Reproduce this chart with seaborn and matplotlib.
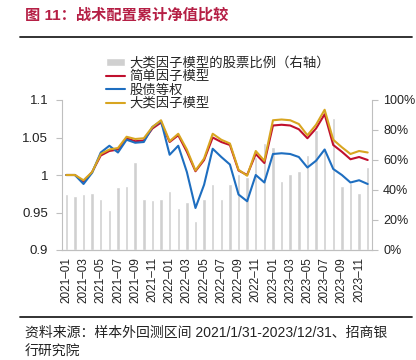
import matplotlib
matplotlib.use('Agg')
import matplotlib.pyplot as plt
from matplotlib.lines import Line2D
import numpy as np
import pandas as pd
import seaborn as sns

months = [f'{y}–{m:02d}' for y in (2021, 2022, 2023) for m in range(1, 13)]

# 大类因子模型的股票比例（右轴）, %
stock_ratio = [37.3, 36.0, 37.0, 38.0, 33.8, 26.7, 42.2, 42.9, 58.9, 34.0, 33.6, 34.0,
               39.6, 27.8, 31.8, 19.3, 33.8, 43.8, 33.8, 44.0, 50.4, 48.9, 62.0, 71.0,
               68.9, 46.0, 50.7, 52.4, 63.1, 80.0, 68.2, 87.8, 42.9, 44.4, 37.8, 55.1]

simple_factor = [1.000, 1.000, 0.991, 1.004, 1.026, 1.032, 1.034, 1.049, 1.045, 1.046, 1.062, 1.070,
                 1.044, 1.053, 1.031, 1.005, 1.020, 1.050, 1.044, 1.040, 1.006, 1.000, 1.028, 1.016,
                 1.066, 1.067, 1.066, 1.061, 1.049, 1.062, 1.081, 1.040, 1.031, 1.021, 1.024, 1.020]

equal_weight = [1.000, 1.000, 0.988, 1.003, 1.030, 1.039, 1.030, 1.047, 1.043, 1.044, 1.064, 1.072,
                1.027, 1.039, 1.004, 0.956, 0.987, 1.035, 1.024, 1.014, 0.974, 0.965, 1.000, 0.990,
                1.028, 1.029, 1.028, 1.024, 1.010, 1.019, 1.034, 1.008, 1.000, 0.990, 0.993, 0.988]

macro_factor = [1.000, 1.000, 0.993, 1.004, 1.028, 1.034, 1.036, 1.051, 1.048, 1.049, 1.064, 1.073,
                1.045, 1.055, 1.034, 1.006, 1.022, 1.055, 1.047, 1.042, 1.007, 0.999, 1.032, 1.019,
                1.073, 1.074, 1.073, 1.068, 1.053, 1.067, 1.087, 1.047, 1.037, 1.028, 1.032, 1.030]

labels = ['大类因子模型的股票比例（右轴）', '简单因子模型', '股债等权', '大类因子模型']
colors = {'bar': '#D0D0D0', 'simple': '#C0102E', 'equal': '#1E6EC0', 'macro': '#D8A520'}
left_ticks = [0.9, 0.95, 1.0, 1.05, 1.1]
left_ticklabels = ['0.9', '0.95', '1', '1.05', '1.1']
right_ticks = [0, 20, 40, 60, 80, 100]

df = pd.DataFrame({'month': months, 'pos': np.arange(len(months)),
                   'ratio': stock_ratio, 'simple': simple_factor,
                   'equal': equal_weight, 'macro': macro_factor})

sns.set_theme(style='white')
plt.rcParams['font.family'] = ['Liberation Sans', 'Noto Sans CJK SC']
axis_gray = '#BFBFBF'

fig = plt.figure(figsize=(4.16, 3.6), dpi=100)
ax = fig.add_axes([62 / 416, 110 / 360, 310 / 416, 150 / 360])
ax2 = ax.twinx()

sns.barplot(data=df, x='month', y='ratio', ax=ax2, color=colors['bar'],
            saturation=1, width=0.4)
ax2.set_ylim(0, 100)

sns.lineplot(data=df, x='pos', y='simple', ax=ax, color=colors['simple'], lw=1.5)
sns.lineplot(data=df, x='pos', y='equal', ax=ax, color=colors['equal'], lw=1.5)
sns.lineplot(data=df, x='pos', y='macro', ax=ax, color=colors['macro'], lw=1.5)
if ax.get_legend():
    ax.get_legend().remove()

ax.set_zorder(ax2.get_zorder() + 1)
ax.patch.set_visible(False)

ax.set_xlim(-0.5, len(months) - 0.5)
ax.set_ylim(0.9, 1.1)
ax.set_yticks(left_ticks)
ax.set_yticklabels(left_ticklabels)
ax2.set_yticks(right_ticks)
ax2.set_yticklabels([f'{v}%' for v in right_ticks])

ax.set_xticks(df['pos'][::2])
ax.set_xticklabels(months[::2], rotation=90)
ax.set_xticks(np.arange(-0.5, len(months), 2), minor=True)
ax.tick_params(axis='x', which='major', length=0, pad=5, labelsize=8.5, colors='#222222')
ax.tick_params(axis='x', which='minor', length=4, width=0.8, color=axis_gray, direction='out')
ax.tick_params(axis='y', length=4, width=0.8, color=axis_gray, direction='out',
               labelsize=9.5, labelcolor='#222222', pad=6)
ax2.tick_params(axis='y', length=4, width=0.8, color=axis_gray, direction='out',
                labelsize=9, labelcolor='#222222', pad=4)
ax.set_xlabel('')
ax.set_ylabel('')
ax2.set_xlabel('')
ax2.set_ylabel('')

for a in (ax, ax2):
    for s in a.spines.values():
        s.set_color(axis_gray)
        s.set_linewidth(0.8)
    a.spines['top'].set_visible(False)
ax.spines['right'].set_visible(False)
ax2.spines['left'].set_visible(False)

handles = [ax2.containers[0]] + ax.get_lines()[:3]
fig.legend(handles, labels, loc='upper left', bbox_to_anchor=(106 / 416, 1 - 57 / 360),
           frameon=False, fontsize=9.6, borderpad=0, borderaxespad=0, labelspacing=0.08,
           handlelength=1.4, handleheight=0.5, handletextpad=0.35)

fig.text(25 / 416, 1 - 15 / 360, '图 11：战术配置累计净值比较', ha='left', va='center',
         fontsize=11, fontweight='bold', color='#B51F45')
fig.add_artist(Line2D([20 / 416, 412 / 416], [1 - 37 / 360] * 2, color='#222222', lw=1.3))
fig.add_artist(Line2D([20 / 416, 412 / 416], [1 - 317 / 360] * 2, color='#222222', lw=1.3))
fig.text(25 / 416, 1 - 333 / 360, '资料来源：样本外回测区间 2021/1/31-2023/12/31、招商银',
         ha='left', va='center', fontsize=10, color='#222222')
fig.text(25 / 416, 1 - 352 / 360, '行研究院', ha='left', va='center',
         fontsize=10, color='#222222')

fig.savefig('out.png', dpi=100)
